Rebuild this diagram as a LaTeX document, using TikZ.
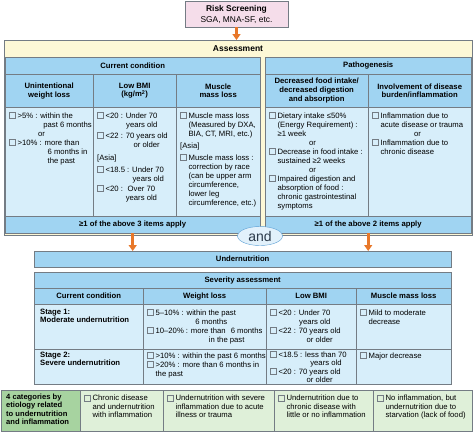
\documentclass[tikz,border=0pt]{standalone}
\usepackage{fontspec}
\setmainfont{Liberation Sans}
\usetikzlibrary{arrows.meta, positioning, shapes.geometric}
\definecolor{hdrblue}{HTML}{A0D4F2}
\definecolor{cellblue}{HTML}{D7EEFA}
\definecolor{assessyel}{HTML}{FDF8D6}
\definecolor{riskpink}{HTML}{F5DDEA}
\definecolor{catgreen}{HTML}{A7D3A0}
\definecolor{catlight}{HTML}{DFF0D9}
\definecolor{arroworange}{HTML}{E8782A}
\definecolor{linegray}{HTML}{747C84}
\definecolor{andblue}{HTML}{5A9FD4}
\definecolor{andfill}{HTML}{E2F1FB}
\definecolor{andtext}{HTML}{2B3A4A}
\newcommand{\bodyfont}{\fontsize{7.7}{9}\selectfont\lineskip=0pt}
\newcommand{\tightfont}{\fontsize{7.7}{8.5}\selectfont\lineskip=0pt}
\newcommand{\headfont}{\fontsize{7.7}{8.8}\selectfont\bfseries}
\newcommand{\cb}{{\color{linegray}\fboxrule=0.5pt\fboxsep=0pt\fbox{\rule{0pt}{5.4pt}\hspace{5.4pt}}}}
\newcommand{\chk}[3][l]{\cb\hspace{2pt}#2\begin{tabular}[t]{@{}#1@{}}#3\end{tabular}}
\tikzset{
  hdr/.style={draw=linegray, fill=hdrblue, anchor=north west, inner sep=0pt,
    align=center, font=\headfont},
  cell/.style={draw=linegray, fill=cellblue, anchor=north west, inner sep=0pt},
  catcell/.style={draw=linegray, fill=catlight, anchor=north west, inner sep=0pt},
  txt/.style={anchor=north west, inner sep=0pt, align=left, font=\bodyfont},
  bar/.style={-{Triangle[width=8pt,length=6pt]}, line width=2.6pt, arroworange},
}

\begin{document}
\begin{tikzpicture}[x=1pt, y=-1pt]
  \useasboundingbox (0,0) rectangle (474,432);

  % Screening
  \node[draw=linegray, fill=riskpink, minimum width=103, minimum height=26,
    inner sep=0pt, align=center, font=\fontsize{8.4}{11}\selectfont] (risk) at (236.5,14)
    {\textbf{Risk Screening}\\SGA, MNA-SF, etc.};

  % Assessment frame
  \node[draw=linegray, fill=assessyel, anchor=north west, minimum width=468,
    minimum height=195, inner sep=0pt] (assessbox) at (4,40) {};
  \node[font=\fontsize{8.5}{10}\selectfont\bfseries] (assess) at (238,49) {Assessment};
  \draw[bar] (risk) -- (risk.south |- assessbox.north);

  % Current condition
  \node[hdr, minimum width=255, minimum height=17] (curcond) at (5,57) {Current condition};
  \node[hdr, minimum width=88, minimum height=33] (unint) at (5,74) {Unintentional\\weight loss};
  \node[hdr, minimum width=83, minimum height=33] (lowbmi) at (93,74) {Low BMI\\(kg/m\textsuperscript{2})};
  \node[hdr, minimum width=84, minimum height=33] (muscle) at (176,74) {Muscle\\mass loss};
  \node[cell, minimum width=88, minimum height=109] (unintcell) at (5,107) {};
  \node[cell, minimum width=83, minimum height=109] (lowbmicell) at (93,107) {};
  \node[cell, minimum width=84, minimum height=109] (musclecell) at (176,107) {};
  \node[hdr, minimum width=255, minimum height=17] (foot1) at (5,216) {≥1 of the above 3 items apply};

  \node[txt] (unintlist) at (9,111.5) {%
    \chk{>5\% : }{within the\\\hspace{3pt}past 6 months}\\
    \strut\hspace{29pt}or\\
    \chk{>10\% : }{more than\\\hspace{3pt}6 months in\\\hspace{3pt}the past}};
  \node[txt] (lowbmilist) at (97,111.5) {%
    \chk[r]{<20 : }{Under 70\\years old}\\[2pt]
    \chk[c]{<22 : }{70 years old\\or older}\\[4pt]
    \strut[Asia]\\[3pt]
    \chk[r]{<18.5 : }{Under 70\\years old}\\[1pt]
    \chk[c]{<20 : }{Over 70\\years old}};
  \node[txt] (musclelist) at (180,111.5) {%
    \chk{}{Muscle mass loss\\(Measured by DXA,\\BIA, CT, MRI, etc.)}\\[3pt]
    \strut[Asia]\\[3pt]
    \chk{}{Muscle mass loss :\\correction by race\\(can be upper arm\\circumference,\\lower leg\\circumference, etc.)}};

  % Pathogenesis
  \node[hdr, minimum width=206, minimum height=17] (patho) at (265,57) {Pathogenesis};
  \node[hdr, minimum width=103, minimum height=33] (intake) at (265,74) {Decreased food intake/\\decreased digestion\\and absorption};
  \node[hdr, minimum width=103, minimum height=33] (inflam) at (368,74) {Involvement of disease\\burden/inflammation};
  \node[cell, minimum width=103, minimum height=109] (intakecell) at (265,107) {};
  \node[cell, minimum width=103, minimum height=109] (inflamcell) at (368,107) {};
  \node[hdr, minimum width=206, minimum height=17] (foot2) at (265,216) {≥1 of the above 2 items apply};

  \node[txt] (intakelist) at (269,111.5) {%
    \chk{}{Dietary intake ≤50\%\\(Energy Requirement) :\\≥1 week}\\
    \strut\hspace{40pt}or\\
    \chk{}{Decrease in food intake :\\sustained ≥2 weeks}\\
    \strut\hspace{40pt}or\\
    \chk{}{Impaired digestion and\\absorption of food :\\chronic gastrointestinal\\symptoms}};
  \node[txt] (inflamlist) at (372,111.5) {%
    \chk{}{Inflammation due to\\acute disease or trauma}\\
    \strut\hspace{42pt}or\\
    \chk{}{Inflammation due to\\chronic disease}};

  % Undernutrition
  \node[hdr, minimum width=417, minimum height=16] (undern) at (34,251) {Undernutrition};
  \draw[bar] (foot1.south) -- (foot1.south |- undern.north);
  \draw[bar] (foot2.south) -- (foot2.south |- undern.north);
  \node[ellipse, draw=andblue, fill=andfill, minimum width=45, minimum height=19,
    inner sep=0pt, font=\fontsize{14}{14}\selectfont, text=andtext] (and) at (260,236) {and};

  % Severity assessment
  \node[hdr, minimum width=417, minimum height=16] (severity) at (34,272) {Severity assessment};
  \node[hdr, minimum width=109, minimum height=16] (sevcond) at (34,288) {Current condition};
  \node[hdr, minimum width=123, minimum height=16] (sevwl) at (143,288) {Weight loss};
  \node[hdr, minimum width=90, minimum height=16] (sevbmi) at (266,288) {Low BMI};
  \node[hdr, minimum width=95, minimum height=16] (sevmus) at (356,288) {Muscle mass loss};
  \foreach \x/\w/\n in {34/109/a, 143/123/b, 266/90/c, 356/95/d} {
    \node[cell, minimum width=\w, minimum height=45] (stone-\n) at (\x,304) {};
    \node[cell, minimum width=\w, minimum height=35] (sttwo-\n) at (\x,349) {};
  }

  \node[txt, font=\headfont] (stonetxt) at (40,308.5) {Stage 1:\\Moderate undernutrition};
  \node[txt] (stonewl) at (147,308.5) {%
    \chk[c]{5–10\% : }{within the past\\6 months}\\
    \chk[c]{10–20\% : }{more than\hspace{3pt} 6 months\\in the past}};
  \node[txt] (stonebmi) at (270,308.5) {%
    \chk[r]{<20 : }{Under 70\\years old}\\
    \chk[c]{<22 : }{70 years old\\or older}};
  \node[txt] (stonemus) at (360,308.5) {\chk{}{Mild to moderate\\decrease}};

  \node[txt, font=\headfont] (sttwotxt) at (40,351.5) {Stage 2:\\Severe undernutrition};
  \node[txt] (sttwowl) at (147,351.5) {%
    \chk{}{>10\% : within the past 6 months}\\
    \chk{}{>20\% : more than 6 months in\\the past}};
  \node[txt, font=\tightfont] (sttwobmi) at (270,351) {%
    \chk[c]{<18.5 : }{less than 70\\years old}\\
    \chk[c]{<20 : }{70 years old\\or older}};
  \node[txt] (sttwomus) at (360,351.5) {\chk{}{Major decrease}};

  % Etiology categories
  \node[draw=linegray, fill=catgreen, anchor=north west, minimum width=79,
    minimum height=41, inner sep=0pt] (cat) at (1,390) {};
  \node[catcell, minimum width=83, minimum height=41] (catone) at (80,390) {};
  \node[catcell, minimum width=111, minimum height=41] (cattwo) at (163,390) {};
  \node[catcell, minimum width=99, minimum height=41] (catthree) at (274,390) {};
  \node[catcell, minimum width=99, minimum height=41] (catfour) at (373,390) {};

  \node[txt, font=\fontsize{7.6}{8.2}\selectfont\bfseries] (cattxt) at (6,394)
    {4 categories by\\etiology related\\to undernutrition\\and inflammation};
  \node[txt, font=\fontsize{7.7}{8.6}\selectfont] (catonetxt) at (84,394.5)
    {\chk{}{Chronic disease\\and undernutrition\\with inflammation}};
  \node[txt, font=\fontsize{7.7}{8.6}\selectfont] (cattwotxt) at (167,394.5)
    {\chk{}{Undernutrition with severe\\inflammation due to acute\\illness or trauma}};
  \node[txt, font=\fontsize{7.7}{8.6}\selectfont] (catthreetxt) at (278,394.5)
    {\chk{}{Undernutrition due to\\chronic disease with\\little or no inflammation}};
  \node[txt, font=\fontsize{7.7}{8.6}\selectfont] (catfourtxt) at (377,394.5)
    {\chk{}{No inflammation, but\\undernutrition due to\\starvation (lack of food)}};
\end{tikzpicture}
\end{document}
